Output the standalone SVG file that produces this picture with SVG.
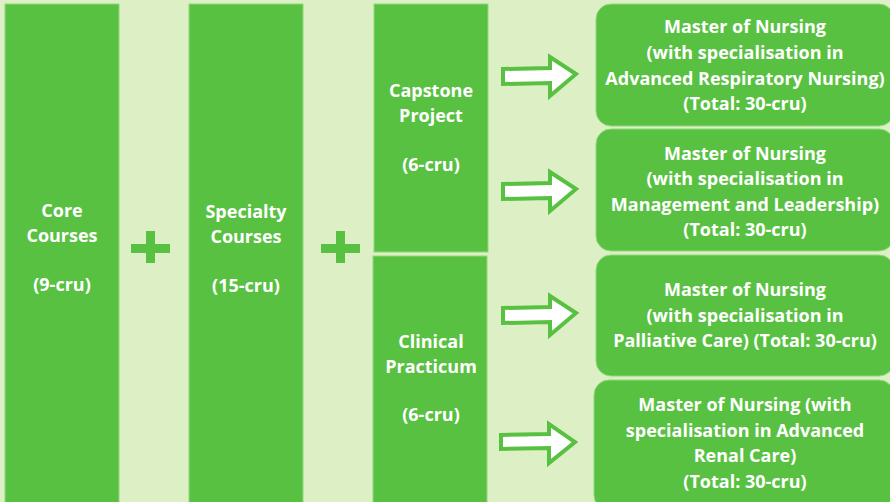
<svg xmlns="http://www.w3.org/2000/svg" width="890" height="502" viewBox="0 0 890 502">
<defs>
<style>
.box{fill:#59c142;stroke:#8fd97a;stroke-width:1}
.t{font-family:"Open Sans","Liberation Sans",sans-serif;font-weight:700;font-size:18px;fill:#ffffff;text-anchor:middle}
.arrow{fill:#ffffff;stroke:#59c142;stroke-width:4;stroke-linejoin:miter}
.plus{fill:#59c142}
</style>
</defs>
<rect x="0" y="0" width="890" height="502" fill="#ddefc4"/>
<g id="core">
<rect class="box" x="5" y="4" width="114" height="500"/>
<text class="t" x="62" y="217">Core</text>
<text class="t" x="62" y="242">Courses</text>
<text class="t" x="62" y="291">(9-cru)</text>
</g>
<g id="plus1"><rect class="plus" x="146" y="231" width="9" height="32"/><rect class="plus" x="131" y="244" width="39" height="9"/></g>
<g id="specialty">
<rect class="box" x="189" y="4" width="114" height="500"/>
<text class="t" x="246" y="218">Specialty</text>
<text class="t" x="246" y="243">Courses</text>
<text class="t" x="246" y="292">(15-cru)</text>
</g>
<g id="plus2"><rect class="plus" x="336" y="231" width="9" height="32"/><rect class="plus" x="321" y="244" width="39" height="9"/></g>
<g id="capstone">
<rect class="box" x="374" y="4" width="114" height="248"/>
<text class="t" x="431" y="97">Capstone</text>
<text class="t" x="431" y="122">Project</text>
<text class="t" x="431" y="171">(6-cru)</text>
</g>
<g id="clinical">
<rect class="box" x="373" y="256" width="114" height="248"/>
<text class="t" x="431" y="348">Clinical</text>
<text class="t" x="431" y="373">Practicum</text>
<text class="t" x="431" y="421">(6-cru)</text>
</g>
<g id="connectors">
<path class="arrow" d="M503,69 L550,68 L550,57 L576,74 L550,96 L550,83 L503,84 Z"/>
<path class="arrow" d="M503,184 L550,183 L550,172 L576,189 L550,211 L550,198 L503,199 Z"/>
<path class="arrow" d="M503,308 L550,307 L550,296 L576,313 L550,335 L550,322 L503,323 Z"/>
<path class="arrow" d="M501,435 L549,434 L549,424 L575,442 L549,463 L549,448 L501,449 Z"/>
</g>
<g id="m1">
<rect class="box" x="596" y="4" width="298" height="122" rx="15"/>
<text class="t" x="745" y="33">Master of Nursing</text>
<text class="t" x="745" y="59">(with specialisation in</text>
<text class="t" x="745" y="85">Advanced Respiratory Nursing)</text>
<text class="t" x="745" y="110">(Total: 30-cru)</text>
</g>
<g id="m2">
<rect class="box" x="596" y="129" width="298" height="122" rx="15"/>
<text class="t" x="745" y="160">Master of Nursing</text>
<text class="t" x="745" y="185">(with specialisation in</text>
<text class="t" x="745" y="211">Management and Leadership)</text>
<text class="t" x="745" y="236">(Total: 30-cru)</text>
</g>
<g id="m3">
<rect class="box" x="596" y="255" width="298" height="121" rx="15"/>
<text class="t" x="745" y="296">Master of Nursing</text>
<text class="t" x="745" y="322">(with specialisation in</text>
<text class="t" x="745" y="347">Palliative Care) (Total: 30-cru)</text>
</g>
<g id="m4">
<rect class="box" x="594" y="380" width="300" height="130" rx="15"/>
<text class="t" x="745" y="411">Master of Nursing (with</text>
<text class="t" x="745" y="437">specialisation in Advanced</text>
<text class="t" x="745" y="462">Renal Care)</text>
<text class="t" x="745" y="488">(Total: 30-cru)</text>
</g>
</svg>
